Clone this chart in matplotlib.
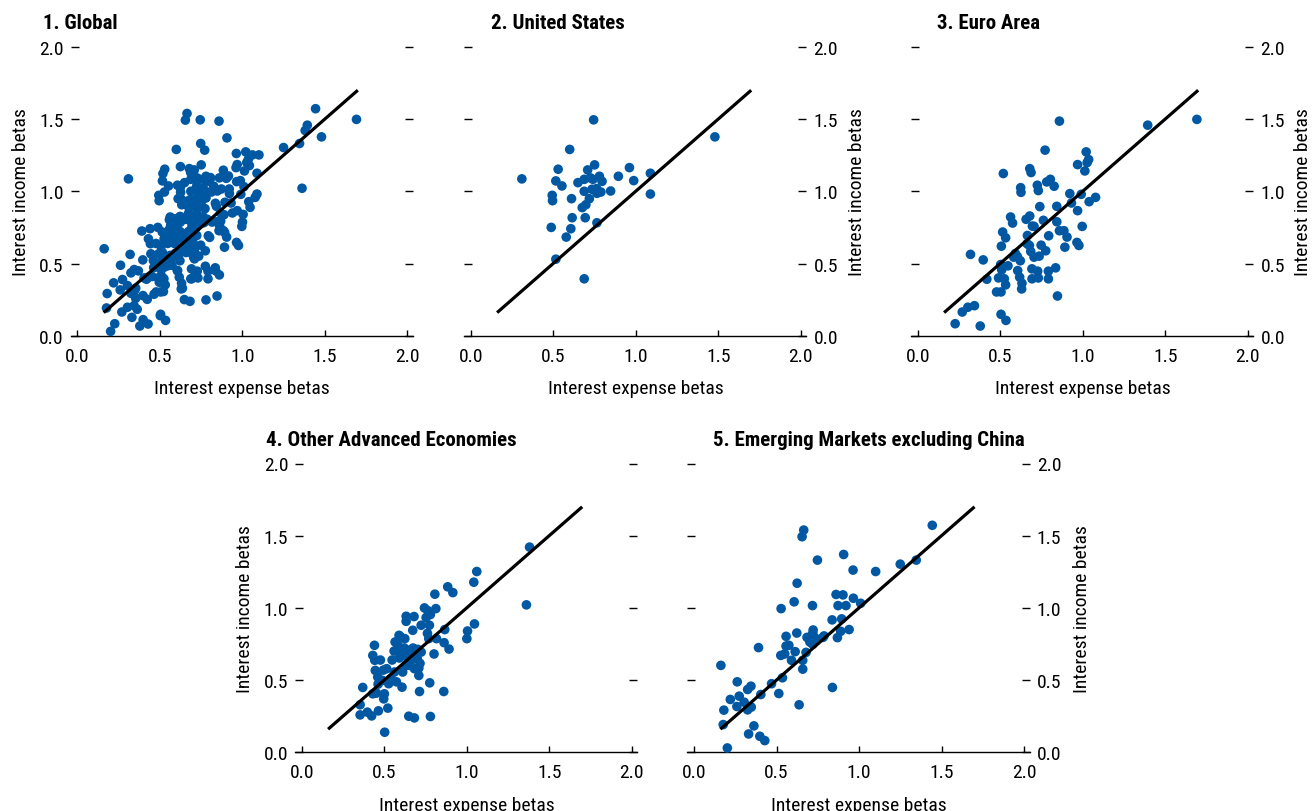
import matplotlib
matplotlib.use("Agg")
import matplotlib.pyplot as plt
from matplotlib import font_manager as fm

# ---------------- data (interest expense beta, interest income beta) ----------------
us_points = [
    (0.745, 1.495), (1.48, 1.377), (0.60, 1.29), (0.31, 1.086), (0.53, 1.153),
    (0.516, 1.072), (0.553, 1.037), (0.494, 0.972), (0.496, 0.935), (0.611, 0.949),
    (0.65, 1.06), (0.709, 1.148), (0.751, 1.183), (0.688, 1.083), (0.725, 1.093),
    (0.741, 1.083), (0.78, 1.104), (0.796, 1.069), (0.688, 1.0), (0.735, 1.014),
    (0.763, 1.019), (0.765, 0.986), (0.789, 0.995), (0.719, 0.949), (0.698, 0.907),
    (0.676, 0.887), (0.848, 1.002), (0.895, 1.104), (0.962, 1.164), (0.988, 1.074),
    (1.089, 1.125), (1.089, 0.981), (0.615, 0.817), (0.694, 0.817), (0.488, 0.75),
    (0.607, 0.741), (0.579, 0.683), (0.765, 0.782), (0.516, 0.53), (0.688, 0.394),
]

ea_points = [
    (0.859, 1.486), (1.394, 1.458), (1.692, 1.498), (0.772, 1.285), (1.021, 1.273),
    (1.036, 1.22), (1.027, 1.199), (0.969, 1.185), (1.013, 1.141), (0.519, 1.123),
    (0.679, 1.157), (0.687, 1.13), (0.804, 1.083), (0.782, 1.065), (0.827, 1.035),
    (0.725, 1.042), (0.731, 1.005), (0.624, 1.025), (0.626, 0.993), (0.922, 0.984),
    (0.991, 0.979), (1.078, 0.958), (1.039, 0.928), (0.932, 0.919), (0.74, 0.894),
    (0.843, 0.896), (0.969, 0.866), (0.563, 0.822), (0.575, 0.78), (0.679, 0.829),
    (0.657, 0.806), (0.762, 0.799), (0.695, 0.759), (0.705, 0.757), (0.843, 0.789),
    (0.997, 0.757), (0.859, 0.727), (0.886, 0.727), (0.515, 0.718), (0.533, 0.678),
    (0.665, 0.694), (0.794, 0.692), (0.905, 0.683), (0.507, 0.62), (0.663, 0.637),
    (0.677, 0.625), (0.748, 0.627), (0.892, 0.613), (0.965, 0.646), (0.977, 0.625),
    (0.776, 0.588), (0.685, 0.583), (0.32, 0.563), (0.397, 0.525), (0.592, 0.569),
    (0.604, 0.549), (0.582, 0.544), (0.622, 0.519), (0.705, 0.544), (0.736, 0.551),
    (0.503, 0.493), (0.547, 0.484), (0.509, 0.456), (0.606, 0.451), (0.692, 0.463),
    (0.727, 0.447), (0.792, 0.447), (0.836, 0.47), (0.419, 0.391), (0.49, 0.40),
    (0.525, 0.394), (0.618, 0.405), (0.533, 0.352), (0.632, 0.363), (0.693, 0.394),
    (0.731, 0.40), (0.792, 0.394), (0.63, 0.324), (0.478, 0.303), (0.505, 0.303),
    (0.847, 0.275), (0.344, 0.208), (0.304, 0.197), (0.27, 0.164), (0.227, 0.083),
    (0.505, 0.148), (0.535, 0.106), (0.379, 0.067),
]

oae_points = [
    (1.381, 1.421), (1.362, 1.021), (1.061, 1.252), (1.043, 1.178), (0.885, 1.146),
    (0.916, 1.106), (0.807, 1.095), (1.047, 0.889), (1.005, 0.84), (1.001, 0.787),
    (0.867, 0.85), (0.863, 0.759), (0.893, 0.715), (0.744, 1.0), (0.764, 0.981),
    (0.813, 0.995), (0.78, 0.954), (0.754, 0.933), (0.724, 0.88), (0.774, 0.88),
    (0.681, 0.94), (0.633, 0.942), (0.633, 0.907), (0.673, 0.845), (0.762, 0.824),
    (0.77, 0.787), (0.817, 0.787), (0.59, 0.81), (0.60, 0.799), (0.625, 0.787),
    (0.566, 0.764), (0.584, 0.741), (0.56, 0.701), (0.592, 0.713), (0.622, 0.722),
    (0.649, 0.706), (0.675, 0.722), (0.703, 0.713), (0.724, 0.694), (0.802, 0.681),
    (0.548, 0.639), (0.592, 0.653), (0.622, 0.671), (0.649, 0.625), (0.673, 0.644),
    (0.717, 0.616), (0.657, 0.602), (0.683, 0.579), (0.71, 0.583), (0.515, 0.579),
    (0.562, 0.556), (0.612, 0.556), (0.71, 0.532), (0.541, 0.509), (0.574, 0.488),
    (0.527, 0.475), (0.608, 0.451), (0.441, 0.741), (0.431, 0.671), (0.443, 0.637),
    (0.477, 0.639), (0.446, 0.567), (0.495, 0.569), (0.461, 0.521), (0.489, 0.498),
    (0.463, 0.472), (0.37, 0.449), (0.431, 0.405), (0.453, 0.41), (0.501, 0.405),
    (0.497, 0.37), (0.354, 0.329), (0.522, 0.306), (0.465, 0.287), (0.398, 0.278),
    (0.424, 0.252), (0.354, 0.259), (0.714, 0.421), (0.776, 0.481), (0.861, 0.421),
    (0.649, 0.25), (0.683, 0.238), (0.78, 0.248), (0.503, 0.139),
    (0.64, 0.68), (0.66, 0.66), (0.69, 0.69), (0.63, 0.60), (0.70, 0.65),
]

em_points = [
    (1.444, 1.572), (0.665, 1.539), (0.655, 1.493), (0.907, 1.37), (0.748, 1.331),
    (0.964, 1.262), (1.101, 1.252), (1.25, 1.303), (1.347, 1.331), (0.625, 1.171),
    (0.861, 1.093), (0.903, 1.09), (0.966, 1.067), (1.01, 1.032), (0.873, 1.016),
    (0.921, 1.016), (0.607, 1.042), (0.528, 0.995), (0.718, 1.016), (0.837, 0.917),
    (0.895, 0.924), (0.623, 0.826), (0.722, 0.847), (0.72, 0.824), (0.685, 0.796),
    (0.788, 0.806), (0.889, 0.838), (0.94, 0.85), (0.869, 0.794), (0.558, 0.803),
    (0.712, 0.759), (0.734, 0.792), (0.782, 0.796), (0.702, 0.764), (0.72, 0.748),
    (0.558, 0.736), (0.575, 0.741), (0.391, 0.725), (0.613, 0.697), (0.679, 0.692),
    (0.526, 0.671), (0.55, 0.681), (0.591, 0.637), (0.659, 0.637), (0.659, 0.576),
    (0.536, 0.516), (0.47, 0.475), (0.514, 0.407), (0.405, 0.40), (0.839, 0.449),
    (0.637, 0.329), (0.163, 0.602), (0.262, 0.488), (0.345, 0.458), (0.325, 0.435),
    (0.274, 0.389), (0.22, 0.366), (0.304, 0.347), (0.26, 0.317), (0.347, 0.313),
    (0.325, 0.294), (0.181, 0.292), (0.177, 0.192), (0.363, 0.183), (0.331, 0.127),
    (0.399, 0.111), (0.429, 0.081), (0.202, 0.03),
]

global_points = us_points + ea_points + oae_points + em_points

panel_titles = ["1. Global", "2. United States", "3. Euro Area",
                "4. Other Advanced Economies", "5. Emerging Markets excluding China"]
x_ticks = [0.0, 0.5, 1.0, 1.5, 2.0]
y_ticks = [0.0, 0.5, 1.0, 1.5, 2.0]
tick_labels = ["0.0", "0.5", "1.0", "1.5", "2.0"]
ref_x = [0.16, 1.70]
ref_y = [0.16, 1.70]
xlabel_text = "Interest expense betas"
ylabel_text = "Interest income betas"

# ---------------- style ----------------
names = {f.name for f in fm.fontManager.ttflist}
family = next((n for n in ["Liberation Sans Narrow", "Arial Narrow", "Roboto Condensed",
                           "Liberation Sans"] if n in names), "DejaVu Sans")
plt.rcParams["font.family"] = [family, "DejaVu Sans"]

DOT = "#0058a3"
W, H = 1315, 812
fig = plt.figure(figsize=(W / 100, H / 100), dpi=100)

XS, YS = 165.0, 144.4
XMIN, XMAX = -0.04, 2.035
TICK_FS = 14
LABEL_FS = 14
TITLE_FS = 15


def fx(px):
    return px / W


def fy(py):
    return (H - py) / H


def make_panel(x0, y0, pts, title, title_x, label_side, ylabels):
    left = x0 + XMIN * XS
    right = x0 + XMAX * XS
    top = y0 - 2.0 * YS
    ax = fig.add_axes([fx(left), fy(y0), (right - left) / W, (y0 - top) / H])
    ax.set_xlim(XMIN, XMAX)
    ax.set_ylim(0, 2.0)
    for s in ["top", "left", "right"]:
        ax.spines[s].set_visible(False)
    ax.spines["bottom"].set_linewidth(1.0)
    ax.set_xticks(x_ticks)
    ax.set_xticklabels(tick_labels)
    ax.set_yticks(y_ticks)
    ax.set_yticklabels(tick_labels)
    ax.tick_params(axis="x", direction="in", length=4, width=1, pad=8,
                   labelsize=TICK_FS)
    ax.tick_params(axis="y", direction="in", length=5.5, width=1, pad=5,
                   labelsize=TICK_FS, left=True, right=True,
                   labelleft=(label_side == "left"), labelright=(label_side == "right"))

    xs = [p[0] for p in pts]
    ys = [p[1] for p in pts]
    ax.scatter(xs, ys, s=48, color=DOT, edgecolors="none", zorder=3, clip_on=False)
    ax.plot(ref_x, ref_y, color="black", lw=2.3, zorder=4, solid_capstyle="butt")

    fig.text(fx(title_x), fy(y0 - 307.4), title, fontsize=TITLE_FS, fontweight="bold",
             ha="left", va="baseline")
    fig.text(fx(x0 + 1.0 * XS), fy(y0 + 57.3), xlabel_text, fontsize=LABEL_FS,
             ha="center", va="baseline")
    for lx in ylabels:
        fig.text(fx(lx), fy(y0 - 1.0 * YS), ylabel_text, fontsize=LABEL_FS,
                 rotation=90, ha="center", va="center")
    return ax


make_panel(77.3, 336.7, global_points, panel_titles[0], 42.7, "left", [21])
make_panel(470.7, 336.7, us_points, panel_titles[1], 490.7, "right", [])
make_panel(917.7, 336.7, ea_points, panel_titles[2], 937.0, "right", [857, 1303])
make_panel(301.7, 753.3, oae_points, panel_titles[3], 266.0, "left", [245])
make_panel(694.0, 753.3, em_points, panel_titles[4], 713.0, "right", [1082])

fig.savefig("out.png", dpi=100)
